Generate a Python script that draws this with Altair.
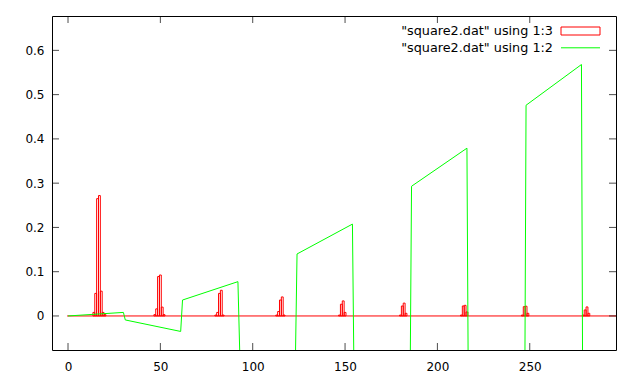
import altair as alt
import pandas as pd

# ---- data ----
# column 3 of square2.dat (boxes): only the non-zero boxes
bar_x = [14, 15, 16, 17, 18, 19, 20,
         47, 48, 49, 50, 51, 52,
         80, 81, 82, 83, 84,
         113, 114, 115, 116, 117,
         147, 148, 149, 150,
         180, 181, 182, 183,
         213, 214, 215, 216,
         246, 247, 248, 249,
         279, 280, 281, 282]
bar_y = [0.008, 0.051, 0.265, 0.272, 0.056, 0.008, 0.003,
         0.003, 0.016, 0.089, 0.0925, 0.020, 0.003,
         0.002, 0.008, 0.051, 0.058, 0.002,
         0.002, 0.010, 0.036, 0.043, 0.002,
         0.002, 0.0265, 0.034, 0.008,
         0.002, 0.0225, 0.029, 0.006,
         0.002, 0.0226, 0.024, 0.009,
         0.002, 0.021, 0.022, 0.006,
         0.002, 0.0136, 0.0204, 0.006]
# extent of the zero boxes (red baseline)
base_x = [-0.5, 310]

# column 2 of square2.dat (line): vertices of the straight pieces
line_x = [0, 30, 31, 61, 62, 92, 93, 123, 124, 154, 155, 185,
          186, 216, 217, 247, 248, 278, 279, 309]
line_y = [0.0, 0.008, -0.009, -0.035, 0.036, 0.0775, -0.085, -0.13,
          0.140, 0.2075, -0.20, -0.28, 0.293, 0.379, -0.37, -0.46,
          0.476, 0.568, -0.56, -0.65]

x_ticks = [0, 50, 100, 150, 200, 250]
y_ticks = [0, 0.1, 0.2, 0.3, 0.4, 0.5, 0.6]
leg_labels = ['"square2.dat" using 1:3', '"square2.dat" using 1:2']

FONT = "DejaVu Sans"
FS = 12
LFS = 12.8
RED = "#ff0000"
GREEN = "#00ff00"
W, H = 564, 334
TK = 7  # inward tick length in pixels

X_DOM = [-8.67, 296.7]
Y_DOM = [-0.0769, 0.6776]
xs = alt.Scale(domain=X_DOM, nice=False, zero=False)
ys = alt.Scale(domain=Y_DOM, nice=False, zero=False)

bars_df = pd.DataFrame({"x": bar_x, "v": bar_y})
base_df = pd.DataFrame({"x0": [base_x[0]], "x1": [base_x[1]], "y": [0.0]})
line_df = pd.DataFrame({"x": line_x, "y": line_y})
leg_df = pd.DataFrame({"label": leg_labels, "row": [0, 1]})
xt_df = pd.DataFrame({"t": x_ticks})
yt_df = pd.DataFrame({"t": y_ticks})

AX = alt.Axis(orient="bottom", values=x_ticks, format="d", ticks=False,
              domain=False, grid=False, labelPadding=11, labelFont=FONT,
              labelFontSize=FS, labelColor="black", title=None)
AY = alt.Axis(orient="left", values=y_ticks, format="~g", ticks=False,
              domain=False, grid=False, labelPadding=8, labelFont=FONT,
              labelFontSize=FS, labelColor="black", title=None)

bars = alt.Chart(bars_df).transform_calculate(
    x0="datum.x - 0.5", x1="datum.x + 0.5", z="0"
).mark_rect(filled=False, stroke=RED, strokeWidth=1, clip=True).encode(
    x=alt.X("x0:Q", scale=xs, axis=AX), x2="x1:Q",
    y=alt.Y("v:Q", scale=ys, axis=AY), y2="z:Q",
)
baseline = alt.Chart(base_df).mark_rule(color=RED, strokeWidth=1, clip=True).encode(
    x=alt.X("x0:Q", scale=xs, axis=AX), x2="x1:Q",
    y=alt.Y("y:Q", scale=ys, axis=AY),
)
line = alt.Chart(line_df).mark_line(color=GREEN, strokeWidth=1, clip=True).encode(
    x=alt.X("x:Q", scale=xs, axis=AX),
    y=alt.Y("y:Q", scale=ys, axis=AY),
)


# inward ticks on all four sides (gnuplot border tics + mirror):
# ticks centred on the frame edge, outer half clipped away
def xtick_layer(edge):
    return alt.Chart(xt_df).transform_calculate(a=f"{edge}").mark_tick(
        color="black", thickness=1, size=2 * TK, orient="vertical", clip=True
    ).encode(
        x=alt.X("t:Q", scale=xs, axis=AX),
        y=alt.Y("a:Q", scale=ys, axis=AY),
    )


def ytick_layer(edge):
    return alt.Chart(yt_df).transform_calculate(a=f"{edge}").mark_tick(
        color="black", thickness=1, size=2 * TK, orient="horizontal", clip=True
    ).encode(
        y=alt.Y("t:Q", scale=ys, axis=AY),
        x=alt.X("a:Q", scale=xs, axis=AX),
    )


tb = xtick_layer(Y_DOM[0])
tt = xtick_layer(Y_DOM[1])
tl = ytick_layer(X_DOM[0])
tr = ytick_layer(X_DOM[1])

# legend (gnuplot style: text right-aligned, sample on the right)
leg_text1 = alt.Chart(leg_df).transform_filter("datum.row == 0").mark_text(
    align="right", baseline="middle", font=FONT, fontSize=LFS, color="black"
).encode(x=alt.value(501), y=alt.value(15.3), text="label:N")
leg_text2 = alt.Chart(leg_df).transform_filter("datum.row == 1").mark_text(
    align="right", baseline="middle", font=FONT, fontSize=LFS, color="black"
).encode(x=alt.value(501), y=alt.value(31.8), text="label:N")
leg_box = alt.Chart(leg_df).transform_filter("datum.row == 0").mark_rect(
    filled=False, stroke=RED, strokeWidth=1
).encode(x=alt.value(509), x2=alt.value(548), y=alt.value(11), y2=alt.value(19))
leg_line = alt.Chart(leg_df).transform_filter("datum.row == 1").mark_rule(
    color=GREEN, strokeWidth=1
).encode(x=alt.value(509), x2=alt.value(548), y=alt.value(31.8))

chart = alt.layer(
    bars, baseline, line, tb, tt, tl, tr,
    leg_text1, leg_text2, leg_box, leg_line
).properties(
    width=W, height=H,
    autosize=alt.AutoSizeParams(type="none"),
    padding={"left": 44, "top": 8, "right": 16, "bottom": 26},
).configure_view(stroke="black", strokeWidth=1)

chart.save("out.html", embed_options={"renderer": "svg", "actions": False})
